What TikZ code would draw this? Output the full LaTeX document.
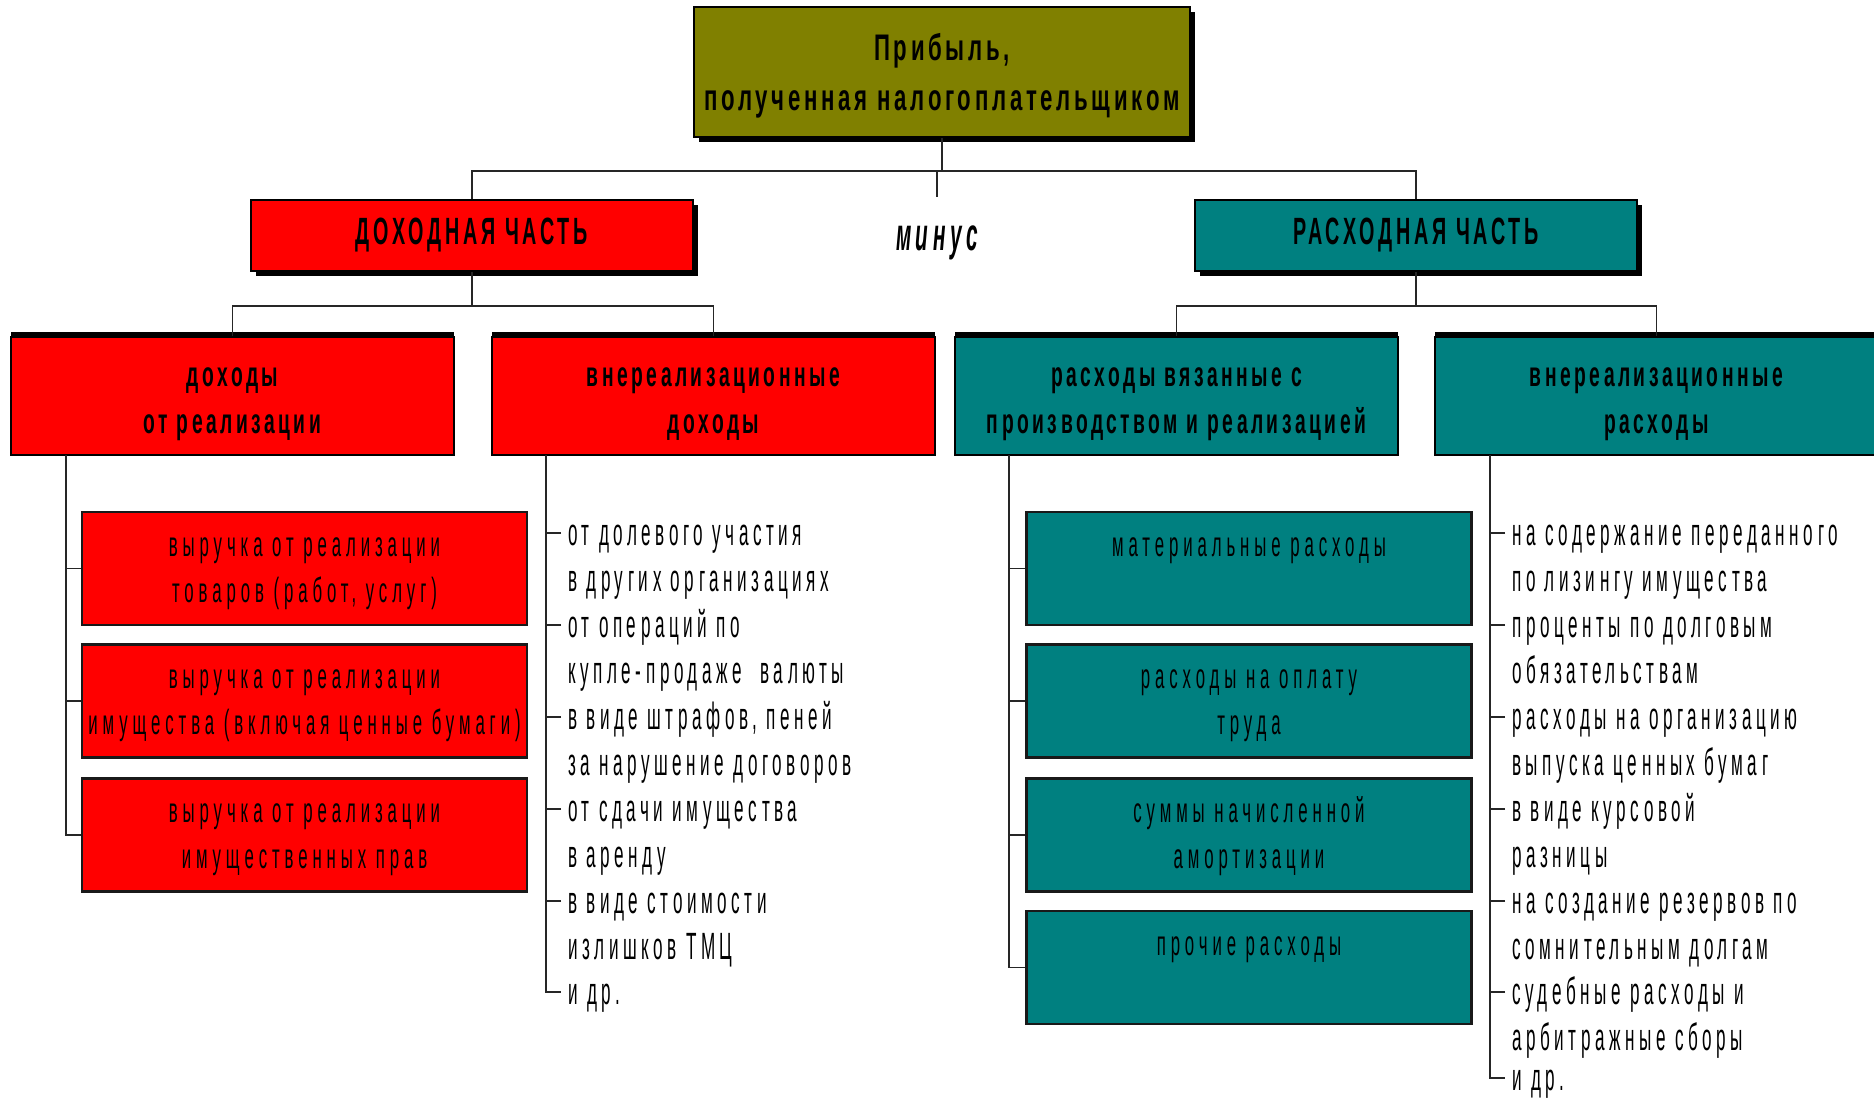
\documentclass[tikz,border=0pt]{standalone}
\usepackage{fontspec}
\usetikzlibrary{shadows}
\newfontfamily\nfr[FakeStretch=0.45,LetterSpace=12]{Liberation Sans}
\newfontfamily\nfc[FakeStretch=0.48,LetterSpace=14]{Liberation Sans}
\newfontfamily\nfb[FakeStretch=0.55,LetterSpace=10]{Liberation Sans}
\newfontfamily\nft[FakeStretch=0.6,LetterSpace=10]{Liberation Sans}
\newfontfamily\nfh[FakeStretch=0.52,LetterSpace=10]{Liberation Sans}
\newfontfamily\nfm[FakeStretch=0.45,LetterSpace=10]{Liberation Sans}
\newcommand\lnst[2]{\rule[-#2pt]{0pt}{#1pt}}
\definecolor{olivebox}{RGB}{128,128,0}
\definecolor{redbox}{RGB}{255,0,0}
\definecolor{tealbox}{RGB}{0,128,128}
\begin{document}
\begin{tikzpicture}[x=1pt,y=-1pt,
  conn/.style={draw=black!85, line width=1.6pt},
  topbox/.style={draw=black, line width=1.5pt, fill=olivebox, align=center,
    minimum width=496pt, minimum height=130pt, inner sep=0pt,
    font={\nft\bfseries\fontsize{37}{50}\selectfont},
    drop shadow={shadow xshift=5pt, shadow yshift=-5pt, fill=black, opacity=1}},
  lvlone/.style={draw=black, line width=1.5pt, align=center,
    minimum width=442pt, minimum height=71pt, inner sep=0pt,
    font={\nfh\bfseries\fontsize{38}{46}\selectfont},
    drop shadow={shadow xshift=5pt, shadow yshift=-5pt, fill=black, opacity=1}},
  lvltwo/.style={draw=black, line width=1.5pt, align=center,
    minimum width=443pt, minimum height=118pt, inner sep=0pt,
    font={\nfb\bfseries\fontsize{35}{47}\selectfont},
    drop shadow={shadow xshift=0pt, shadow yshift=5pt, fill=black, opacity=1}},
  lvlthree/.style={draw=black!90, line width=2.2pt, align=center,
    minimum width=445pt, minimum height=113pt, inner sep=0pt,
    font={\nfc\fontsize{35}{46}\selectfont}},
  lst/.style={anchor=west, inner sep=0pt, text height=30pt, text depth=5.4pt,
    font={\nfr\fontsize{38}{46}\selectfont}}
]
\useasboundingbox (0,0) rectangle (1874,1099);
\clip (0,0) rectangle (1874,1099);
\fill[white] (0,0) rectangle (1874,1099);

% top
\node[topbox] (top) at (942,72) {\lnst{45}{9}Прибыль,\\\lnst{45}{9}полученная налогоплательщиком};
% level one
\node[lvlone, fill=redbox] (inc) at (472,235.5) {\lnst{36}{9}ДОХОДНАЯ ЧАСТЬ};
\node[lvlone, fill=tealbox] (exp) at (1416,235.5) {\lnst{36}{9}РАСХОДНАЯ ЧАСТЬ};
\node[font={\nfm\bfseries\itshape\fontsize{46}{50}\selectfont}, inner sep=0pt, anchor=base] (minus) at (937,251) {минус};

% level two
\node[lvltwo, fill=redbox] (A) at (232.5,396) {\lnst{44}{8}доходы\\\lnst{44}{8}от реализации};
\node[lvltwo, fill=redbox] (B) at (713.5,396) {\lnst{44}{8}внереализационные\\\lnst{44}{8}доходы};
\node[lvltwo, fill=tealbox] (C) at (1176.5,396) {\lnst{44}{8}расходы вязанные с\\\lnst{44}{8}производством и реализацией};
\node[lvltwo, fill=tealbox] (D) at (1656.5,396) {\lnst{44}{8}внереализационные\\\lnst{44}{8}расходы};

% connectors top
\coordinate (h1) at (0,171);
\coordinate (h1b) at (0,197);
\draw[conn] (top.south) -- (top.south |- h1);
\draw[conn] (inc.north) |- (exp.north |- h1) -- (exp.north);
\draw[conn] (minus.north |- h1) -- (minus.north |- h1b);
% connectors level two
\coordinate (h2) at (0,306);
\draw[conn] (inc.south) -- (inc.south |- h2);
\draw[conn] (A.north) |- (B.north |- h2) -- (B.north);
\draw[conn] (exp.south) -- (exp.south |- h2);
\draw[conn] (C.north) |- (D.north |- h2) -- (D.north);

% level three left
\node[lvlthree, fill=redbox] (a1) at (304.5,568.5) {\lnst{37}{8}выручка от реализации\\\lnst{37}{8}товаров (работ, услуг)};
\node[lvlthree, fill=redbox] (a2) at (304.5,701) {\lnst{37}{8}выручка от реализации\\\lnst{37}{8}имущества (включая ценные бумаги)};
\node[lvlthree, fill=redbox] (a3) at (304.5,835) {\lnst{37}{8}выручка от реализации\\\lnst{37}{8}имущественных прав};
\coordinate (As) at (66,455);
\draw[conn] (As) |- (a3.west);
\draw[conn] (a1.west) -- (a1.west -| As);
\draw[conn] (a2.west) -- (a2.west -| As);

% level three right
\node[lvlthree, fill=tealbox] (c1) at (1249,568.5) {\lnst{37}{8}материальные расходы\\\lnst{37}{8}};
\node[lvlthree, fill=tealbox] (c2) at (1249,701) {\lnst{37}{8}расходы на оплату\\\lnst{37}{8}труда};
\node[lvlthree, fill=tealbox] (c3) at (1249,835) {\lnst{37}{8}суммы начисленной\\\lnst{37}{8}амортизации};
\node[lvlthree, fill=tealbox] (c4) at (1249,967.5) {\lnst{37}{8}прочие расходы\\\lnst{37}{8}};
\coordinate (Cs) at (1009,455);
\draw[conn] (Cs) |- (c4.west);
\draw[conn] (c1.west) -- (c1.west -| Cs);
\draw[conn] (c2.west) -- (c2.west -| Cs);
\draw[conn] (c3.west) -- (c3.west -| Cs);

% list B
\node[lst] (b1) at (568,533) {от долевого участия};
\node[lst] (b1x) at (568,579) {в других организациях};
\node[lst] (b2) at (568,625) {от операций по};
\node[lst] (b2x) at (568,671) {купле-продаже\ \ валюты};
\node[lst] (b3) at (568,717) {в виде штрафов, пеней};
\node[lst] (b3x) at (568,763) {за нарушение договоров};
\node[lst] (b4) at (568,809) {от сдачи имущества};
\node[lst] (b4x) at (568,855) {в аренду};
\node[lst] (b5) at (568,901) {в виде стоимости};
\node[lst] (b5x) at (568,947) {излишков ТМЦ};
\node[lst] (b6) at (568,992) {и др.};
\coordinate (Bs) at (546,455);
\draw[conn] (Bs) |- ([xshift=-7pt]b6.west);
\foreach \n in {b1,b2,b3,b4,b5}
  \draw[conn] ([xshift=-7pt]\n.west) -- (\n.west -| Bs);

% list D
\node[lst] (d1) at (1512,533) {на содержание переданного};
\node[lst] (d1x) at (1512,579) {по лизингу имущества};
\node[lst] (d2) at (1512,625) {проценты по долговым};
\node[lst] (d2x) at (1512,671) {обязательствам};
\node[lst] (d3) at (1512,717) {расходы на организацию};
\node[lst] (d3x) at (1512,763) {выпуска ценных бумаг};
\node[lst] (d4) at (1512,809) {в виде курсовой};
\node[lst] (d4x) at (1512,855) {разницы};
\node[lst] (d5) at (1512,901) {на создание резервов по};
\node[lst] (d5x) at (1512,947) {сомнительным долгам};
\node[lst] (d6) at (1512,992) {судебные расходы и};
\node[lst] (d6x) at (1512,1038) {арбитражные сборы};
\node[lst] (d7) at (1512,1078) {и др.};
\coordinate (Ds) at (1490,455);
\draw[conn] (Ds) |- ([xshift=-7pt]d7.west);
\foreach \n in {d1,d2,d3,d4,d5,d6}
  \draw[conn] ([xshift=-7pt]\n.west) -- (\n.west -| Ds);
\end{tikzpicture}
\end{document}
